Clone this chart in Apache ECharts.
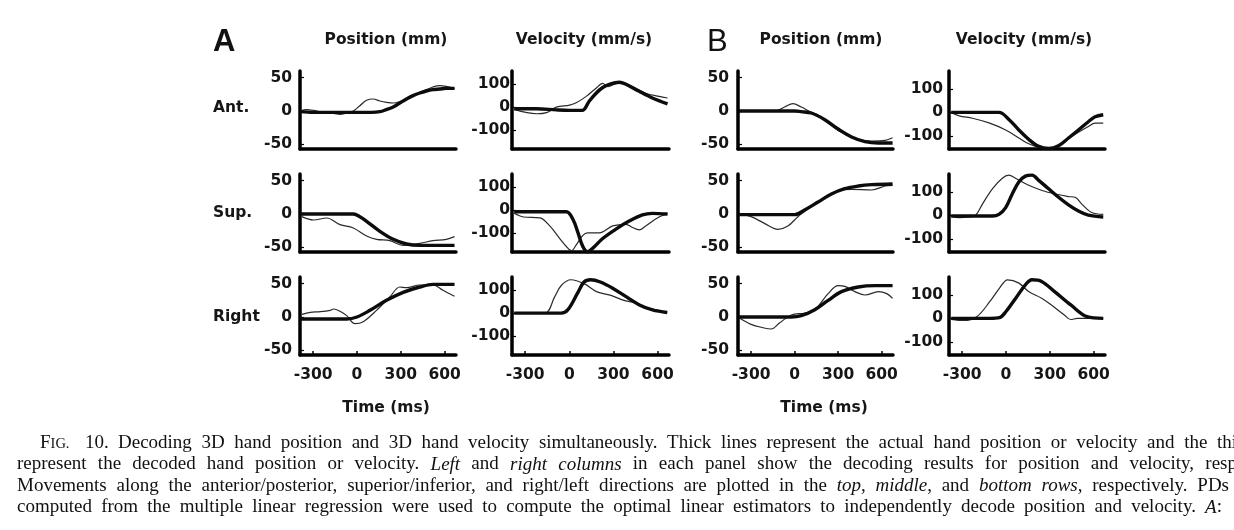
<!DOCTYPE html>
<html>
<head>
<meta charset="utf-8">
<script src="https://cdn.jsdelivr.net/npm/echarts@6.0.0/dist/echarts.min.js"></script>
<style>
  html, body { margin: 0; padding: 0; background: #ffffff; }
  #chart { width: 1234px; height: 530px; }
</style>
</head>
<body>
<div id="chart"></div>
<script>
// ---------------- DATA (time in ms, value in mm or mm/s) ----------------
const timeTicks = [-300, 0, 300, 600];
const posTicks = [-50, 0, 50];
const velTicks = [-100, 0, 100];
const rowNames = ['Ant.', 'Sup.', 'Right'];
const panelNames = ['A', 'B'];
const columnTitles = ['Position (mm)', 'Velocity (mm/s)'];
const timeTitle = 'Time (ms)';

// Panel A — position
const aAntPosActual = [[-389,-1],[-300,-2],[-200,-2],[-100,-2],[0,-2],[100,-2],[157,-1],[200,2],[248,6],[293,12],[339,18],[384,23],[430,27],[475,30],[520,32],[566,33],[611,34],[668,34]];
const aAntPosDecoded = [[-389,0],[-343,2],[-298,1],[-250,-1],[-207,-2],[-150,-4],[-116,-5],[-70,-3],[-25,0],[20,8],[66,16],[111,18],[157,15],[202,13],[248,12],[293,14],[339,18],[384,23],[430,28],[475,32],[520,36],[566,38],[611,37],[668,34]];
const aSupPosActual = [[-389,0],[-200,0],[-25,0],[20,-4],[66,-11],[157,-26],[248,-38],[339,-45],[430,-47],[550,-47],[668,-47]];
const aSupPosDecoded = [[-377,-4],[-298,-9],[-207,-6],[-116,-16],[-25,-21],[66,-33],[134,-38],[225,-40],[316,-47],[430,-44],[520,-40],[611,-38],[668,-34]];
const aRightPosActual = [[-389,-3],[-200,-3],[-70,-3],[0,0],[89,10],[202,25],[316,37],[430,45],[520,49],[668,49]];
const aRightPosDecoded = [[-377,4],[-320,7],[-250,8],[-184,10],[-161,12],[-110,8],[-70,2],[-14,-10],[43,-7],[134,10],[225,30],[293,45],[339,44],[430,48],[520,48],[589,40],[668,31]];
// Panel A — velocity
const aAntVelActual = [[-375,-7],[-223,-7],[-88,-12],[0,-14],[88,-14],[135,26],[182,61],[227,86],[272,100],[340,109],[385,100],[475,69],[565,40],[668,14]];
const aAntVelDecoded = [[-375,-10],[-223,-29],[-155,-24],[-88,0],[2,9],[47,19],[115,47],[182,83],[227,104],[261,90],[295,97],[351,109],[430,90],[520,61],[610,47],[668,40]];
const aSupVelActual = [[-375,-7],[-200,-7],[-20,-7],[25,-41],[58,-97],[92,-159],[124,-182],[160,-166],[227,-124],[317,-83],[407,-48],[497,-21],[565,-14],[668,-17]];
const aSupVelDecoded = [[-375,-14],[-312,-30],[-200,-34],[-133,-69],[-65,-124],[-20,-159],[14,-177],[47,-152],[92,-110],[124,-99],[205,-99],[295,-69],[385,-62],[430,-76],[475,-86],[520,-69],[610,-30],[668,-17]];
const aRightVelActual = [[-375,0],[-200,0],[-55,0],[-11,14],[55,86],[100,136],[144,146],[211,136],[300,107],[389,71],[477,36],[566,14],[666,3]];
const aRightVelDecoded = [[-375,0],[-166,0],[-100,71],[-55,121],[11,146],[100,129],[189,93],[278,79],[366,57],[455,43],[544,21],[666,4]];

// Panel B — position
const bAntPosActual = [[-383,0],[-200,0],[0,0],[46,-1],[115,-3],[208,-13],[300,-27],[393,-39],[485,-46],[578,-48],[675,-48]];
const bAntPosDecoded = [[-383,0],[-139,0],[-69,6],[-12,11],[46,6],[115,-2],[162,-6],[231,-18],[323,-32],[439,-43],[531,-45],[624,-44],[675,-40]];
const bSupPosActual = [[-383,-1],[-200,-1],[0,-1],[69,6],[162,18],[254,30],[346,38],[439,42],[531,44],[675,45]];
const bSupPosDecoded = [[-383,0],[-300,-4],[-208,-14],[-116,-23],[-46,-18],[23,-4],[115,11],[208,25],[300,35],[393,37],[531,36],[624,42],[675,43]];
const bRightPosActual = [[-383,0],[-23,0],[46,2],[139,11],[231,25],[323,38],[439,45],[554,47],[675,47]];
const bRightPosDecoded = [[-383,-1],[-300,-11],[-219,-16],[-162,-18],[-104,-9],[-23,3],[69,6],[139,11],[231,35],[300,47],[346,46],[416,38],[485,33],[578,38],[635,35],[675,28]];
// Panel B — velocity
const bAntVelActual = [[-375,0],[-48,0],[20,-30],[88,-75],[156,-115],[224,-145],[292,-154],[360,-142],[428,-109],[496,-75],[564,-40],[610,-19],[666,-10]];
const bAntVelDecoded = [[-375,0],[-320,-15],[-229,-25],[-116,-45],[-2,-75],[88,-109],[156,-134],[224,-149],[292,-154],[360,-139],[428,-112],[496,-85],[564,-60],[610,-46],[666,-46]];
const bSupVelActual = [[-375,-3],[-93,-3],[-48,4],[-2,33],[43,91],[88,142],[133,167],[179,171],[224,149],[292,113],[360,77],[428,45],[496,19],[564,1],[666,-7]];
const bSupVelDecoded = [[-375,-3],[-320,-10],[-252,-7],[-207,1],[-161,48],[-93,113],[-25,158],[20,171],[65,158],[156,128],[247,106],[338,91],[428,80],[474,77],[519,48],[587,12],[666,4]];
const bRightVelActual = [[-375,0],[-111,0],[-44,3],[0,29],[67,86],[133,143],[178,164],[244,157],[333,114],[444,57],[555,7],[666,0]];
const bRightVelDecoded = [[-375,-4],[-289,-9],[-200,7],[-111,71],[-44,129],[11,164],[89,150],[155,114],[244,86],[311,57],[400,14],[444,-5],[488,0],[666,0]];

// Caption (underscores mark italic text)
const captionPrefix = ['F', 'IG.', '10.'];
const captionLines = [
  'Decoding 3D hand position and 3D hand velocity simultaneously. Thick lines represent the actual hand position or velocity and the thi',
  'represent the decoded hand position or velocity. _Left_ and _right columns_ in each panel show the decoding results for position and velocity, resp',
  'Movements along the anterior/posterior, superior/inferior, and right/left directions are plotted in the _top_, _middle_, and _bottom rows_, respectively. PDs',
  'computed from the multiple linear regression were used to compute the optimal linear estimators to independently decode position and velocity. _A_:'
];

// ---------------- LAYOUT ----------------
const SANS = '"DejaVu Sans", sans-serif';
const HEAD = '"Liberation Sans", Arial, sans-serif';
const SERIF = '"Liberation Serif", "Times New Roman", serif';
const INK = '#161616';

const panelLayout = {
  A: { left: [300, 512], width: [156, 157], labelMargin: [8, 2], velRange: [-183, 158],
       titleX: [386, 584], letterX: 213, timeX: 386, letterWeight: 'bold',
       rows: [[[aAntPosActual, aAntPosDecoded], [aAntVelActual, aAntVelDecoded]],
              [[aSupPosActual, aSupPosDecoded], [aSupVelActual, aSupVelDecoded]],
              [[aRightPosActual, aRightPosDecoded], [aRightVelActual, aRightVelDecoded]]] },
  B: { left: [738, 949], width: [155, 156], labelMargin: [9, 6], velRange: [-156, 176],
       titleX: [821, 1024], letterX: 707, timeX: 824, letterWeight: 'normal',
       rows: [[[bAntPosActual, bAntPosDecoded], [bAntVelActual, bAntVelDecoded]],
              [[bSupPosActual, bSupPosDecoded], [bSupVelActual, bSupVelDecoded]],
              [[bRightPosActual, bRightPosDecoded], [bRightVelActual, bRightVelDecoded]]] }
};
const rowTop = [71, 174, 277];
const rowH = 78;
const posRange = [-57, 60];
const timeRange = [-390, 678];

const grids = [], xAxes = [], yAxes = [], series = [];
let gi = 0;
panelNames.forEach(p => {
  const L = panelLayout[p];
  for (let r = 0; r < 3; r++) {
    for (let c = 0; c < 2; c++) {
      grids.push({ left: L.left[c], top: rowTop[r], width: L.width[c], height: rowH });
      const last = r === 2;
      xAxes.push({
        type: 'value', gridIndex: gi, min: timeRange[0], max: timeRange[1],
        axisLine: { show: true, onZero: false, lineStyle: { color: '#000', width: 3.5 } },
        axisTick: { show: last, inside: true, length: 4, customValues: timeTicks, lineStyle: { color: '#000', width: 1.5 } },
        axisLabel: { show: last, customValues: timeTicks, fontFamily: SANS, fontWeight: 'bold', fontSize: 15.5, color: INK, margin: 12 },
        splitLine: { show: false }
      });
      const rng = c === 0 ? posRange : L.velRange;
      const ticks = c === 0 ? posTicks : velTicks;
      yAxes.push({
        type: 'value', gridIndex: gi, min: rng[0], max: rng[1],
        axisLine: { show: true, onZero: false, lineStyle: { color: '#000', width: 3.5 } },
        axisTick: { show: true, inside: true, length: 4, customValues: ticks, lineStyle: { color: '#000', width: 1.2 } },
        axisLabel: { customValues: ticks, fontFamily: SANS, fontWeight: 'bold', fontSize: 15.5, color: INK, margin: L.labelMargin[c] },
        splitLine: { show: false }
      });
      const pair = L.rows[r][c];
      series.push({
        type: 'line', xAxisIndex: gi, yAxisIndex: gi, data: pair[1], smooth: 0.35,
        showSymbol: false, lineStyle: { color: '#2a2a2a', width: 1.2 }, z: 2
      });
      series.push({
        type: 'line', xAxisIndex: gi, yAxisIndex: gi, data: pair[0], smooth: 0.35,
        showSymbol: false, lineStyle: { color: '#0c0c0c', width: 3.4 }, z: 3
      });
      gi++;
    }
  }
});

// ---------------- TEXT ----------------
function textEl(x, y, text, o) {
  return {
    type: 'text', x: x, y: y, silent: true,
    style: {
      text: text, fill: o.fill || INK, fontFamily: o.family, fontSize: o.size,
      fontWeight: o.weight || 'normal', fontStyle: o.italic ? 'italic' : 'normal',
      align: o.align || 'left', textAlign: o.align || 'left',
      verticalAlign: 'middle', textVerticalAlign: 'middle'
    }
  };
}
const graphics = [];
panelNames.forEach(p => {
  const L = panelLayout[p];
  graphics.push(textEl(L.letterX, 42, p, { family: HEAD, size: 31, weight: L.letterWeight, fill: '#111' }));
  columnTitles.forEach((t, c) => graphics.push(textEl(L.titleX[c], 40, t, { family: SANS, size: 15.5, weight: 'bold', align: 'center' })));
  graphics.push(textEl(L.timeX, 408, timeTitle, { family: SANS, size: 15.5, weight: 'bold', align: 'center' }));
});
const rowLabelY = [108, 213, 317];
rowNames.forEach((n, r) => graphics.push(textEl(213, rowLabelY[r], n, { family: SANS, size: 15.5, weight: 'bold' })));

// caption, justified word by word
const CAP = 19;
const measureCtx = document.createElement('canvas').getContext('2d');
function measure(t, italic, size) {
  measureCtx.font = (italic ? 'italic ' : '') + size + 'px ' + SERIF;
  return measureCtx.measureText(t).width;
}
const capY = [443, 464.5, 486, 507.5];
const capX0 = [118, 17, 17, 17];
const capX1 = [1237, 1237, 1229, 1222];
// "FIG. 10." in small capitals
graphics.push(textEl(40, capY[0], captionPrefix[0], { family: SERIF, size: CAP, fill: '#111' }));
graphics.push(textEl(40 + measure('F', false, CAP), capY[0] + 1, captionPrefix[1], { family: SERIF, size: 14.5, fill: '#111' }));
graphics.push(textEl(85, capY[0], captionPrefix[2], { family: SERIF, size: CAP, fill: '#111' }));
let italicState = false;
captionLines.forEach((line, li) => {
  const words = line.split(' ').map(tok => {
    const runs = []; let cur = '';
    for (const ch of tok) {
      if (ch === '_') { if (cur) runs.push({ t: cur, i: italicState }); cur = ''; italicState = !italicState; }
      else cur += ch;
    }
    if (cur) runs.push({ t: cur, i: italicState });
    return runs;
  });
  const widths = words.map(w => w.reduce((s, r) => s + measure(r.t, r.i, CAP), 0));
  const total = widths.reduce((a, b) => a + b, 0);
  const gap = (capX1[li] - capX0[li] - total) / (words.length - 1);
  let x = capX0[li];
  words.forEach((w, k) => {
    let rx = x;
    w.forEach(r => {
      graphics.push(textEl(rx, capY[li], r.t, { family: SERIF, size: CAP, italic: r.i, fill: '#111' }));
      rx += measure(r.t, r.i, CAP);
    });
    x += widths[k] + gap;
  });
});

const chart = echarts.init(document.getElementById('chart'), null, { renderer: 'canvas' });
chart.setOption({
  backgroundColor: '#ffffff',
  animation: false,
  grid: grids,
  xAxis: xAxes,
  yAxis: yAxes,
  series: series,
  graphic: { elements: graphics }
});
</script>
</body>
</html>
